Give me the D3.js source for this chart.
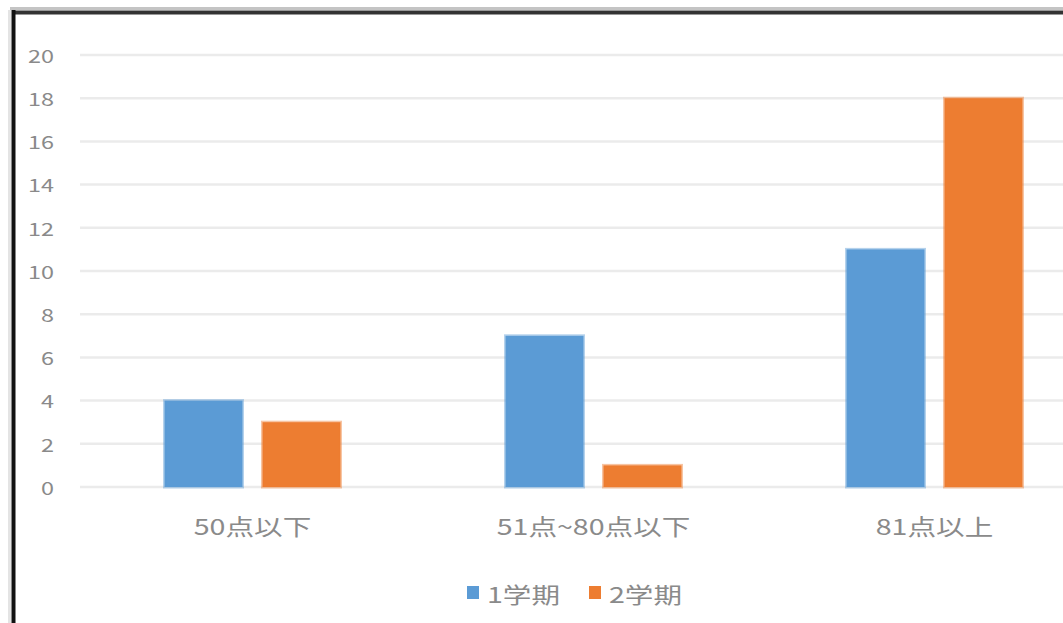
<!DOCTYPE html>
<html>
<head>
<meta charset="utf-8">
<script src="https://cdn.jsdelivr.net/npm/d3@7"></script>
<style>
  html, body { margin: 0; padding: 0; background: #fff; }
  svg { display: block; }
  text { font-family: "Noto Sans CJK JP", "Noto Sans", sans-serif; fill: #8a8a8a; }
</style>
</head>
<body>
<svg id="chart" width="1063" height="623"></svg>
<script>
// Score bands and the count of students in each, per term
const categories = ["50点以下", "51点~80点以下", "81点以上"];
const seriesNames = ["1学期", "2学期"];
const term1 = [4, 7, 11];
const term2 = [3, 1, 18];
const yTicks = [0, 2, 4, 6, 8, 10, 12, 14, 16, 18, 20];
const colors = ["#5b9bd5", "#ed7d31"];

const svg = d3.select("#chart");
const W = 1063, H = 623;
const textStretch = 1.3;

// Frame around the chart area
svg.append("line").attr("x1", 10).attr("x2", W).attr("y1", 8.5).attr("y2", 8.5)
  .attr("stroke", "#c4c4c4").attr("stroke-width", 3);
svg.append("line").attr("x1", 12).attr("x2", W).attr("y1", 12.5).attr("y2", 12.5)
  .attr("stroke", "#333").attr("stroke-width", 4);
svg.append("line").attr("x1", 9.5).attr("x2", 9.5).attr("y1", 10).attr("y2", H)
  .attr("stroke", "#e4e4e4").attr("stroke-width", 3);
svg.append("line").attr("x1", 13.5).attr("x2", 13.5).attr("y1", 10).attr("y2", H)
  .attr("stroke", "#111").attr("stroke-width", 4);

const plotLeft = 82, plotRight = 1105, plotTop = 55, plotBottom = 487;

const y = d3.scaleLinear().domain([0, 20]).range([plotBottom, plotTop]);
const x0 = d3.scaleBand().domain(categories).range([plotLeft, plotRight])
  .paddingInner(0.484).paddingOuter(0.242);
const x1 = d3.scaleBand().domain(seriesNames).range([0, x0.bandwidth()])
  .paddingInner(0.204).paddingOuter(0);

// Horizontal gridlines
svg.append("g").selectAll("line").data(yTicks).join("line")
  .attr("x1", 80).attr("x2", W)
  .attr("y1", d => y(d)).attr("y2", d => y(d))
  .attr("stroke", "#ebebeb").attr("stroke-width", 2.5);

// Value axis labels
svg.append("g").selectAll("text").data(yTicks).join("text")
  .attr("transform", d => `translate(54,${y(d)}) scale(${textStretch},1)`)
  .attr("text-anchor", "end")
  .attr("dominant-baseline", "central")
  .style("font-size", "18px")
  .text(d => d);

// Bars
const rows = categories.map((c, i) => ({ cat: c, vals: [term1[i], term2[i]] }));
const groups = svg.append("g").selectAll("g").data(rows).join("g")
  .attr("transform", d => `translate(${x0(d.cat)},0)`);
groups.selectAll("rect").data(d => d.vals.map((v, k) => ({ name: seriesNames[k], v, k })))
  .join("rect")
  .attr("x", d => x1(d.name))
  .attr("width", x1.bandwidth())
  .attr("y", d => y(d.v))
  .attr("height", d => y(0) - y(d.v))
  .attr("fill", d => colors[d.k])
  .attr("stroke", d => colors[d.k])
  .attr("stroke-opacity", 0.45)
  .attr("stroke-width", 3);

// Category labels
svg.append("g").selectAll("text").data(categories).join("text")
  .attr("transform", d => `translate(${x0(d) + x0.bandwidth() / 2},525) scale(${textStretch},1)`)
  .attr("text-anchor", "middle")
  .attr("dominant-baseline", "central")
  .style("font-size", "22px")
  .text(d => d);

// Legend
const legendX = [467, 589];
const legend = svg.append("g").selectAll("g").data(seriesNames).join("g")
  .attr("transform", (d, i) => `translate(${legendX[i]},593)`);
legend.append("rect")
  .attr("x", 0).attr("y", -7).attr("width", 12).attr("height", 13)
  .attr("fill", (d, i) => colors[i]);
legend.append("text")
  .attr("transform", `translate(20,0) scale(${textStretch},1)`)
  .attr("dominant-baseline", "central")
  .style("font-size", "22px")
  .text(d => d);
</script>
</body>
</html>
